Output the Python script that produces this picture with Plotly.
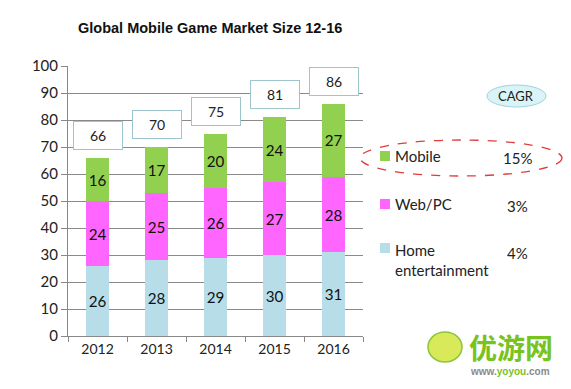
import plotly.graph_objects as go

years = ["2012", "2013", "2014", "2015", "2016"]
home = [26, 28, 29, 30, 31]
webpc = [24, 25, 26, 27, 28]
mobile = [16, 17, 20, 24, 27]
totals = [66, 70, 75, 81, 86]
series_names = ["Mobile", "Web/PC", "Home<br>entertainment"]
cagr = ["15%", "3%", "4%"]
y_ticks = [0, 10, 20, 30, 40, 50, 60, 70, 80, 90, 100]

C_HOME = "#b7dee8"
C_WEB = "#ff66ff"
C_MOB = "#92d050"
FONT = "Lato"

W, H = 571, 389
L, R, T, B = 68, 208, 66, 53
PW, PH = W - L - R, H - T - B


def px(x):
    return (x - L) / PW


def py(y):
    return (H - B - y) / PH


fig = go.Figure()
for vals, col, nm in [(home, C_HOME, "Home entertainment"), (webpc, C_WEB, "Web/PC"), (mobile, C_MOB, "Mobile")]:
    fig.add_trace(go.Bar(
        x=years, y=vals, name=nm, marker=dict(color=col, line=dict(width=0)),
        text=[str(v) for v in vals], textposition="inside", insidetextanchor="middle",
        textfont=dict(family=FONT, size=16, color="#111"), width=0.4,
        showlegend=False, hoverinfo="skip", cliponaxis=False,
    ))

annotations = []
for i, tot in enumerate(totals):
    annotations.append(dict(
        x=i, y=tot, xref="x", yref="y", text=str(tot), showarrow=False,
        yanchor="bottom", yshift=8, width=44, height=23, borderpad=2,
        bgcolor="white", bordercolor="#9cc6ce", borderwidth=1,
        font=dict(family=FONT, size=14, color="#222"),
    ))

# Title
annotations.append(dict(
    x=px(210), y=py(28), xref="paper", yref="paper", showarrow=False,
    text="<b>Global Mobile Game Market Size 12-16</b>",
    font=dict(family="Liberation Sans, Arial", size=14.5, color="#111"),
    xanchor="center", yanchor="middle",
))

# CAGR label
annotations.append(dict(
    x=px(516), y=py(96), xref="paper", yref="paper", showarrow=False,
    text="CAGR", font=dict(family=FONT, size=13, color="#222"),
    xanchor="center", yanchor="middle",
))

shapes = []
shapes.append(dict(type="circle", xref="paper", yref="paper",
                   x0=px(487), x1=px(546), y0=py(107), y1=py(85),
                   fillcolor="#daf3f6", line=dict(color="#9fd3da", width=1), layer="below"))
shapes.append(dict(type="circle", xref="paper", yref="paper",
                   x0=px(360), x1=px(562), y0=py(176), y1=py(140),
                   line=dict(color="#e03c3c", width=1.3, dash="dash")))

legend_rows = [(156, C_MOB), (204, C_WEB), (248, C_HOME)]
pct_y = [158, 206, 253]
for (yc, col), nm, pct, pyy in zip(legend_rows, series_names, cagr, pct_y):
    shapes.append(dict(type="rect", xref="paper", yref="paper",
                       x0=px(380), x1=px(390), y0=py(yc + 5), y1=py(yc - 5),
                       fillcolor=col, line=dict(width=0)))
    if "<br>" in nm:
        annotations.append(dict(x=px(393), y=py(yc - 9), xref="paper", yref="paper",
                                showarrow=False, text=nm, align="left",
                                font=dict(family=FONT, size=15, color="#222"),
                                xanchor="left", yanchor="top"))
    else:
        annotations.append(dict(x=px(393), y=py(yc), xref="paper", yref="paper",
                                showarrow=False, text=nm,
                                font=dict(family=FONT, size=15, color="#222"),
                                xanchor="left", yanchor="middle"))
    annotations.append(dict(x=px(517), y=py(pyy), xref="paper", yref="paper",
                            showarrow=False, text=pct,
                            font=dict(family=FONT, size=15, color="#222"),
                            xanchor="center", yanchor="middle"))

# Watermark
annotations.append(dict(x=px(511), y=py(347), xref="paper", yref="paper", showarrow=False,
                        text="<b>优游网</b>",
                        font=dict(family="Noto Sans CJK SC", size=28, color="#78c31e"),
                        xanchor="center", yanchor="middle"))
annotations.append(dict(x=px(510), y=py(371), xref="paper", yref="paper", showarrow=False,
                        text="<b><span style='color:#8a8a8a'>www.</span><span style='color:#78c31e'>yoyou</span><span style='color:#8a8a8a'>.com</span></b>",
                        font=dict(family="Liberation Sans", size=10),
                        xanchor="center", yanchor="middle"))
shapes.append(dict(type="circle", xref="paper", yref="paper",
                   x0=px(428), x1=px(462), y0=py(362), y1=py(332),
                   fillcolor="#d8ea5a", line=dict(color="#8cc43c", width=1.5)))

fig.update_layout(
    width=W, height=H, margin=dict(l=L, r=R, t=T, b=B),
    barmode="stack", plot_bgcolor="white", paper_bgcolor="white",
    annotations=annotations, shapes=shapes, showlegend=False,
    xaxis=dict(type="category", range=[-0.5, 4.5], showline=True, linecolor="#888", linewidth=1,
               ticks="outside", tickson="boundaries", ticklen=5, tickcolor="#888",
               tickfont=dict(family=FONT, size=14, color="#222"), showgrid=False),
    yaxis=dict(range=[0, 100], tickvals=y_ticks, showgrid=True, gridcolor="#8a8a8a",
               gridwidth=1, showline=True, linecolor="#888", ticks="outside",
               ticklen=6, tickcolor="#888", zeroline=False,
               tickfont=dict(family=FONT, size=15, color="#222")),
)

fig.write_html("out.html", config={"displayModeBar": False},
               post_script="document.body.style.margin='0';document.body.style.overflow='hidden';")
